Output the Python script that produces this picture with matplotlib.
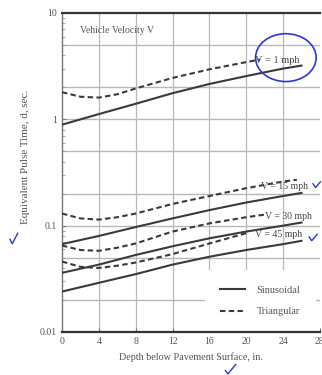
import matplotlib
matplotlib.use('Agg')
import matplotlib.pyplot as plt
from matplotlib.patches import Ellipse

# 読み取った値 (深さ in., 等価パルス時間 sec)
depth_grid = [0, 4, 8, 12, 16, 20, 24, 26]
sin_v1 = [0.89, 1.12, 1.4, 1.76, 2.15, 2.55, 3.0, 3.2]
sin_v15 = [0.067, 0.08, 0.097, 0.117, 0.14, 0.165, 0.19, 0.203]
sin_v30 = [0.036, 0.043, 0.053, 0.064, 0.076, 0.088, 0.1, 0.107]
sin_v45 = [0.024, 0.029, 0.035, 0.043, 0.051, 0.059, 0.067, 0.072]

tri_v1_depth = [0, 2, 4, 6, 8, 12, 16, 20, 21.5]
tri_v1 = [1.8, 1.63, 1.6, 1.72, 1.95, 2.45, 2.95, 3.45, 3.65]
tri_v15_depth = [0, 2, 4, 6, 8, 12, 16, 20, 24, 25.5]
tri_v15 = [0.13, 0.117, 0.114, 0.12, 0.13, 0.16, 0.19, 0.225, 0.26, 0.27]
tri_v30_depth = [0, 2, 4, 6, 8, 12, 16, 20, 22]
tri_v30 = [0.065, 0.059, 0.058, 0.062, 0.068, 0.088, 0.105, 0.12, 0.127]
tri_v45_depth = [0, 2, 4, 6, 8, 12, 16, 20]
tri_v45 = [0.046, 0.041, 0.04, 0.042, 0.045, 0.054, 0.068, 0.085]

x_ticks = [0, 4, 8, 12, 16, 20, 24, 28]
y_ticks = [0.01, 0.1, 1, 10]
y_tick_labels = ['0.01', '0.1', '1', '10']

LINE = '#3a3a3a'
TXT = '#555555'
SERIF = ['Liberation Serif', 'DejaVu Serif']
plt.rcParams['font.family'] = SERIF

fig = plt.figure(figsize=(3.22, 3.75), dpi=100)
ax = fig.add_axes([0.1925, 0.1147, 0.801, 0.8507])

ax.set_yscale('log')
ax.set_xlim(0, 28)
ax.set_ylim(0.01, 10)

# グリッド (1, 2, 5 x 10^n)
for v in [0.02, 0.05, 0.1, 0.2, 0.5, 1, 2, 5]:
    ax.axhline(v, color='#b8b8b8', lw=1.0, zorder=1)
for d in [4, 8, 12, 16, 20, 24]:
    ax.axvline(d, color='#b8b8b8', lw=0.9, zorder=1)

lw = 1.5
for vals in [sin_v1, sin_v15, sin_v30, sin_v45]:
    ax.plot(depth_grid, vals, color=LINE, lw=lw, zorder=3)
for dd, vals in [(tri_v1_depth, tri_v1), (tri_v15_depth, tri_v15),
                 (tri_v30_depth, tri_v30), (tri_v45_depth, tri_v45)]:
    ax.plot(dd, vals, color=LINE, lw=lw, dashes=(2.6, 1.6), zorder=3)

# 凡例ハンドル用
h1, = ax.plot([], [], color=LINE, lw=lw, label='Sinusoidal')
h2, = ax.plot([], [], color=LINE, lw=lw, dashes=(2.6, 1.6), label='Triangular')
leg = ax.legend(handles=[h1, h2], loc='lower right', bbox_to_anchor=(0.985, 0.0),
                fontsize=7.5, frameon=True, fancybox=False, framealpha=1,
                facecolor='white', edgecolor='none', handlelength=2.4,
                handletextpad=1.1, labelspacing=1.2, borderpad=1.5,
                borderaxespad=0.0)
for t in leg.get_texts():
    t.set_color(TXT)
leg.set_zorder(2)

# 曲線ラベル
ax.text(20.9, 3.55, 'V = 1 mph', fontsize=7.5, color='#444444', va='center', zorder=4)
ax.text(21.6, 0.232, 'V = 15 mph', fontsize=7, color='#444444', va='center', zorder=4)
ax.text(22.0, 0.121, 'V = 30 mph', fontsize=7, color='#444444', va='center', zorder=4)
ax.text(21.0, 0.082, 'V = 45 mph', fontsize=7, color='#444444', va='center', zorder=4)
ax.text(0.07, 0.945, 'Vehicle Velocity V', transform=ax.transAxes,
        fontsize=7, color=TXT, va='center', zorder=4)

ax.set_xticks(x_ticks)
ax.set_yticks(y_ticks)
ax.set_yticklabels(y_tick_labels)
ax.tick_params(axis='both', labelsize=7, labelcolor=TXT, direction='in',
               length=3, color='#777777')
ax.tick_params(axis='y', which='minor', direction='in', length=2, color='#999999')
ax.set_xlabel('Depth below Pavement Surface, in.', fontsize=7.3, color=TXT, labelpad=5)
ax.set_ylabel('Equivalent Pulse Time, d, sec.', fontsize=8, color=TXT)
ax.yaxis.set_label_coords(-0.125, 0.55)

for side in ['top', 'bottom']:
    ax.spines[side].set_color('#333333')
    ax.spines[side].set_linewidth(1.6)
ax.spines['left'].set_color('#777777')
ax.spines['left'].set_linewidth(1.0)
ax.spines['right'].set_visible(False)

# 手書きの注記 (青)
BLUE = '#2a36d8'
ax.add_patch(Ellipse((0.868, 0.86), 0.235, 0.15, transform=ax.transAxes,
                     fill=False, edgecolor=BLUE, lw=1.2, zorder=5, clip_on=False))
for xs, ys in [([0.972, 0.980, 0.995], [0.510, 0.500, 0.515]),
               ([0.960, 0.968, 0.985], [0.368, 0.358, 0.375]),
               ([0.031, 0.038, 0.055], [0.362, 0.350, 0.378]),
               ([0.700, 0.708, 0.732], [0.012, 0.003, 0.028])]:
    fig.add_artist(plt.Line2D(xs, ys, color=BLUE, lw=1.0, transform=fig.transFigure))

fig.savefig('out.png', dpi=100)
